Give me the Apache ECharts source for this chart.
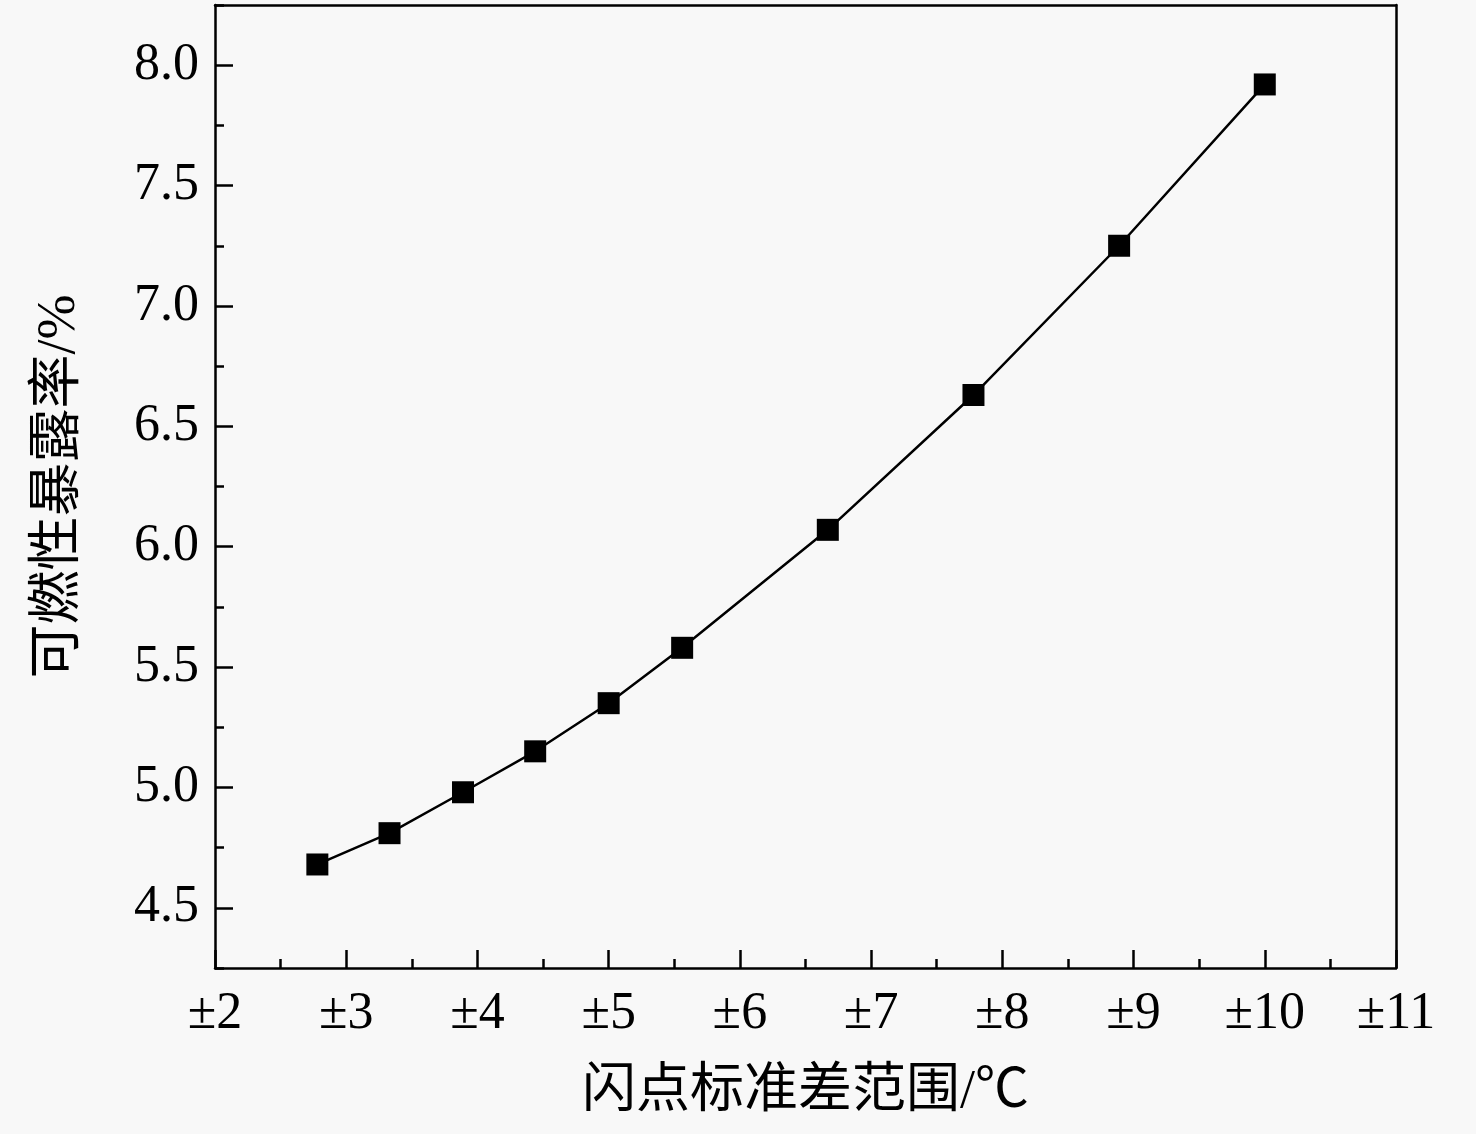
<!DOCTYPE html>
<html>
<head>
<meta charset="utf-8" />
<title></title>
<script src="https://cdn.jsdelivr.net/npm/echarts@6/dist/echarts.min.js"></script>
<style>
html, body { margin: 0; padding: 0; background: #f8f8f8; }
#chart { width: 1476px; height: 1134px; }
</style>
</head>
<body>
<div id="chart"></div>
<script type="text/javascript">
// 闪点标准差 (±℃)
var xValues = [2.78, 3.33, 3.89, 4.44, 5.0, 5.56, 6.67, 7.78, 8.89, 10.0];
// 可燃性暴露率 (%)
var yValues = [4.68, 4.81, 4.98, 5.15, 5.35, 5.58, 6.07, 6.63, 7.25, 7.92];
var yMajorTicks = [4.5, 5.0, 5.5, 6.0, 6.5, 7.0, 7.5, 8.0];
var yMinorTicks = [4.25, 4.75, 5.25, 5.75, 6.25, 6.75, 7.25, 7.75, 8.25];
var xTitle = '闪点标准差范围/℃';
var yTitle = '可燃性暴露率/%';

var points = xValues.map(function (x, i) { return [x, yValues[i]]; });
var fontFamily = '"Liberation Serif", "Noto Sans CJK SC", serif';
var lineStyle = { color: '#000', width: 2.5 };

var chart = echarts.init(document.getElementById('chart'));
chart.setOption({
	backgroundColor: '#f8f8f8',
	animation: false,
	grid: { left: 215, right: 80, top: 5, bottom: 166 },
	xAxis: [{
		type: 'value',
		min: 2,
		max: 11,
		interval: 1,
		axisLine: { lineStyle: lineStyle },
		axisTick: { inside: true, length: 18, lineStyle: lineStyle },
		minorTick: { show: true, splitNumber: 2, length: 9, lineStyle: lineStyle },
		splitLine: { show: false },
		axisLabel: {
			margin: 20,
			color: '#000',
			fontSize: 52,
			fontFamily: fontFamily,
			formatter: function (v) { return '\u00b1' + v; }
		},
		name: xTitle,
		nameLocation: 'middle',
		nameGap: 98,
		nameTextStyle: { color: '#000', fontSize: 54, fontFamily: fontFamily }
	}, {
		type: 'value',
		position: 'top',
		min: 2,
		max: 11,
		axisLine: { show: true, lineStyle: lineStyle },
		axisTick: { show: false },
		axisLabel: { show: false },
		splitLine: { show: false }
	}],
	yAxis: [{
		type: 'value',
		min: 4.25,
		max: 8.25,
		axisLine: { show: true, lineStyle: lineStyle },
		axisTick: { show: true, inside: true, length: 18, lineStyle: lineStyle, customValues: yMajorTicks },
		splitLine: { show: false },
		axisLabel: {
			margin: 16,
			color: '#000',
			fontSize: 52,
			fontFamily: fontFamily,
			customValues: yMajorTicks,
			formatter: function (v) { return v.toFixed(1); }
		},
		name: yTitle,
		nameLocation: 'middle',
		nameGap: 128,
		nameTextStyle: { color: '#000', fontSize: 54, fontFamily: fontFamily }
	}, {
		type: 'value',
		position: 'left',
		min: 4.25,
		max: 8.25,
		axisLine: { show: false },
		axisTick: { show: true, inside: true, length: 9, lineStyle: lineStyle, customValues: yMinorTicks },
		axisLabel: { show: false },
		splitLine: { show: false }
	}, {
		type: 'value',
		position: 'right',
		min: 4.25,
		max: 8.25,
		axisLine: { show: true, lineStyle: lineStyle },
		axisTick: { show: false },
		axisLabel: { show: false },
		splitLine: { show: false }
	}],
	series: [{
		type: 'line',
		data: points,
		symbol: 'rect',
		symbolSize: 22,
		itemStyle: { color: '#000' },
		lineStyle: lineStyle
	}]
});
</script>
</body>
</html>
